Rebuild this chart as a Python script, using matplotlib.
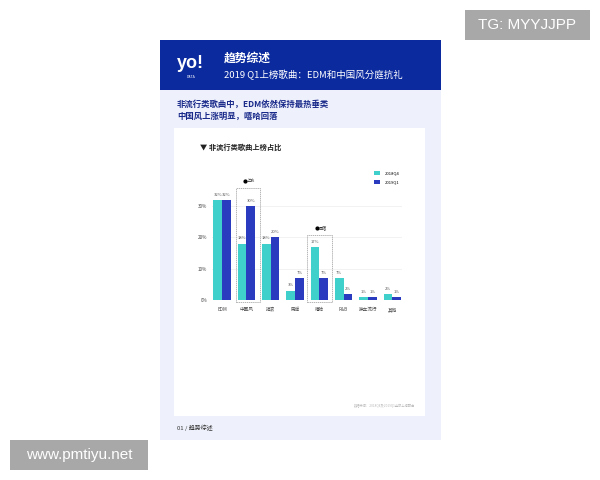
import matplotlib.pyplot as plt
from matplotlib.patches import Rectangle

plt.rcParams['font.family'] = ['Noto Sans CJK SC', 'DejaVu Sans']

# Data
categories = ['EDM', '中国风', '摇滚', '民谣', '嘻哈', 'R&B', '独立流行', '其他']
q4_2018 = [32, 18, 18, 3, 17, 7, 1, 2]
q1_2019 = [32, 30, 20, 7, 7, 2, 1, 1]
series_names = ['2018Q4', '2019Q1']
yticks = [0, 10, 20, 30]

teal = '#3fd0cb'
blue = '#2b3bc0'
header_blue = '#0b2a9e'
lavender = '#eef0fb'

W, H = 600, 480
fig = plt.figure(figsize=(6, 4.8), dpi=100)
fig.patch.set_facecolor('white')


def fx(px):
    return px / W


def fy(py):
    return 1 - py / H


def box(x0, y0, x1, y1, color):
    fig.patches.append(Rectangle((fx(x0), fy(y1)), fx(x1 - x0), (y1 - y0) / H,
                                 transform=fig.transFigure, facecolor=color,
                                 edgecolor='none', zorder=0))


# Page background, header and card
box(160, 40, 441, 440, lavender)
box(160, 40, 441, 90, header_blue)
box(174, 128, 425, 416, 'white')

# Watermarks
box(465, 10, 590, 40, '#a8a8a8')
fig.text(fx(527), fy(25), 'TG: MYYJJPP', color='white', fontsize=11, ha='center', va='center',
         family='Liberation Sans')
box(10, 440, 148, 470, '#a8a8a8')
fig.text(fx(79), fy(455), 'www.pmtiyu.net', color='white', fontsize=11, ha='center', va='center',
         family='Liberation Sans')

# Header text
fig.text(fx(177), fy(63), 'yo!', color='white', fontsize=13, fontweight='bold', va='center',
         family='Liberation Sans')
fig.text(fx(187), fy(77), 'DATA', color='white', fontsize=2.5, va='center')
fig.text(fx(224), fy(58), '趋势综述', color='white', fontsize=8.5, fontweight='bold', va='center')
fig.text(fx(224), fy(75), '2019 Q1上榜歌曲：EDM和中国风分庭抗礼', color='white', fontsize=6.8, va='center')

fig.text(fx(177), fy(104), '非流行类歌曲中，EDM依然保持最热垂类', color='#1a2a8a', fontsize=6.0,
         fontweight='bold', va='center')
fig.text(fx(177), fy(116), '中国风上涨明显，嘻哈回落', color='#1a2a8a', fontsize=6.0,
         fontweight='bold', va='center')
fig.text(fx(200), fy(147), '▼ 非流行类歌曲上榜占比', color='#222222', fontsize=5.2,
         fontweight='bold', va='center')
fig.text(fx(415), fy(406), '数据来源：2018Q4及2019Q1全部上榜歌曲', color='#bbbbbb', fontsize=2.3,
         ha='right', va='center')
fig.text(fx(177), fy(428), '01 / 趋势综述', color='#333333', fontsize=4.3, va='center')

# Chart
ax = fig.add_axes([fx(212), fy(300), fx(402) - fx(212), (300 - 170) / H])
ax.set_zorder(5)
ax.patch.set_alpha(0)
x = list(range(len(categories)))
w = 0.36
ax.bar([i - w / 2 for i in x], q4_2018, width=w, color=teal, label=series_names[0], zorder=2)
ax.bar([i + w / 2 for i in x], q1_2019, width=w, color=blue, label=series_names[1], zorder=2)
for i in x:
    ax.text(i - w / 2, q4_2018[i] + 1, f'{q4_2018[i]}%', ha='center', va='bottom', fontsize=3, color='#555555')
    ax.text(i + w / 2, q1_2019[i] + 1, f'{q1_2019[i]}%', ha='center', va='bottom', fontsize=3, color='#555555')

ax.set_xlim(-0.41, 7.4)
ax.set_ylim(0, 41.5)
ax.set_yticks(yticks)
ax.set_yticklabels([f'{t}%' for t in yticks])
ax.set_xticks(x)
ax.set_xticklabels(categories)
ax.tick_params(length=0, labelsize=3.3, colors='#444444')
ax.tick_params(axis='x', pad=5)
ax.yaxis.grid(True, color='#f0f0f0', linewidth=0.6, zorder=0)
ax.set_axisbelow(True)
for s in ax.spines.values():
    s.set_visible(False)

# Highlight boxes
for x0, x1, top, lab in [(0.58, 1.56, 35.8, '上涨'), (3.5, 4.53, 20.8, '回落')]:
    ax.add_patch(Rectangle((x0, -0.7), x1 - x0, top + 0.7, fill=False, edgecolor='#999999',
                           linewidth=0.5, linestyle=(0, (2, 1)), clip_on=False, zorder=3))
    xc = (x0 + x1) / 2
    ax.plot([xc - 0.12], [top + 2.3], 'o', color='black', markersize=2, clip_on=False)
    ax.text(xc - 0.04, top + 2.3, lab, fontsize=3, va='center', color='#333333')

ax.legend(frameon=False, fontsize=3, loc='upper left', bbox_to_anchor=(fx(370), fy(167)),
          bbox_transform=fig.transFigure, handlelength=1.5, handleheight=1.3, labelspacing=1.0,
          handletextpad=1.2)

fig.savefig('out.png', dpi=100, facecolor='white')
